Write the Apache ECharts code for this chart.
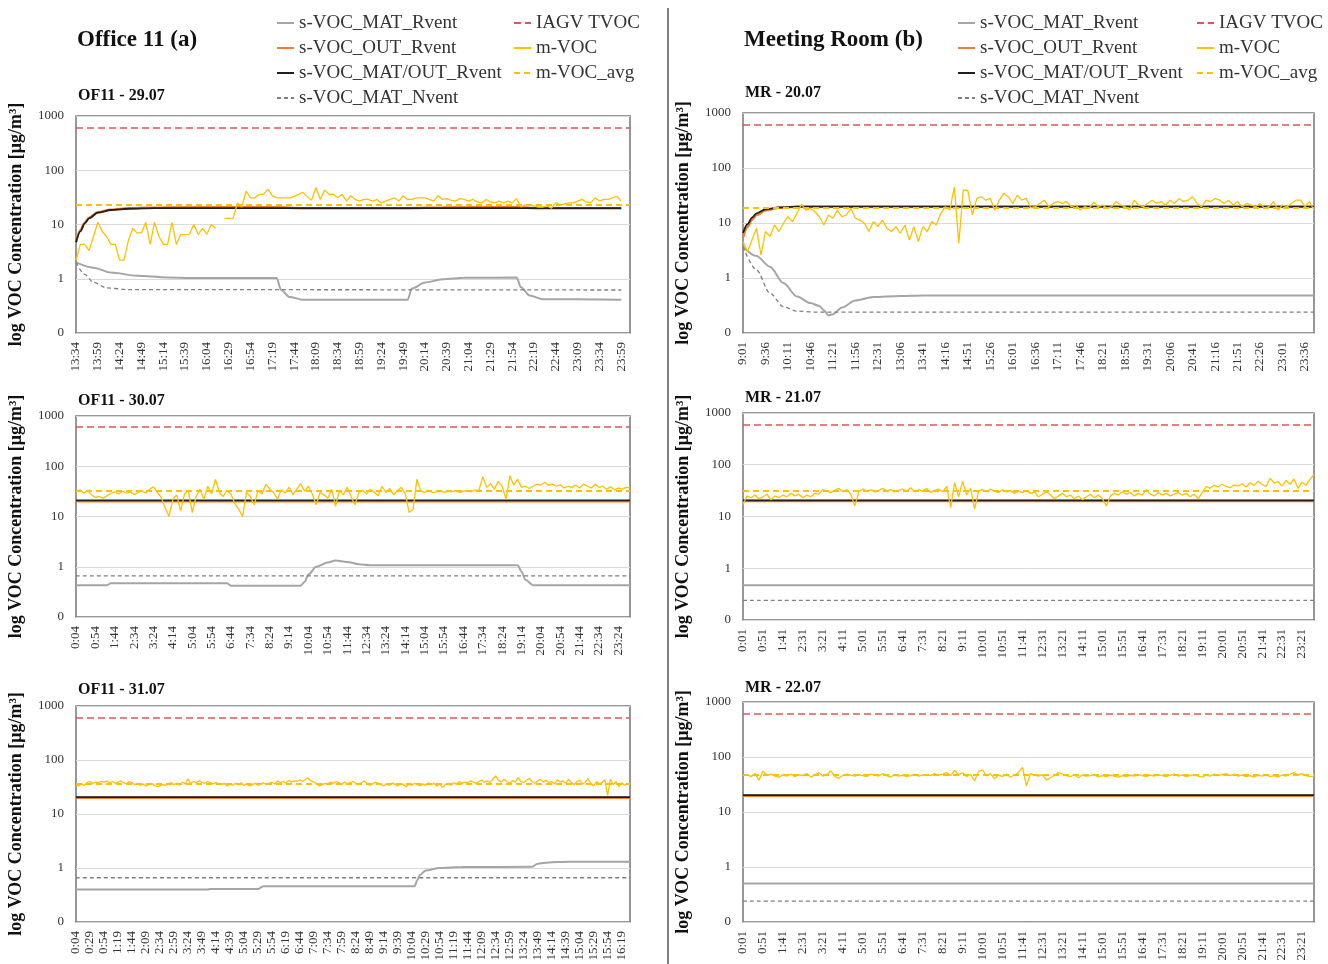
<!DOCTYPE html>
<html>
<head>
<meta charset="utf-8">
<title>VOC concentration - Office 11 / Meeting Room</title>
<script src="https://cdn.jsdelivr.net/npm/echarts@6.0.0/dist/echarts.min.js"></script>
<style>
  html, body { margin: 0; padding: 0; background: #fff; }
  #chart { width: 1328px; height: 964px; }
</style>
</head>
<body>
<div id="chart"></div>
<script>
// one time label per sample (start in minutes after midnight, step in minutes)
function clock(start, step, count) {
  const out = [];
  for (let i = 0; i < count; i++) {
    const t = (start + i * step) % 1440;
    out.push(Math.floor(t / 60) + ':' + String(t % 60).padStart(2, '0'));
  }
  return out;
}

// categories
const catsA1 = clock(13 * 60 + 34, 5, 128);   // 13:34 ... 23:59 (+2 empty)
const catsA2 = clock(4, 10, 144);             // 0:04 ... 23:54
const catsA3 = clock(4, 5, 199);              // 0:04 ... 16:34
const catsB1 = clock(9 * 60 + 1, 7, 128);     // 9:01 ... 23:50
const catsB2 = clock(1, 10, 144);             // 0:01 ... 23:51
const catsB3 = clock(1, 10, 144);

// limits / averages
const iagvLimit = 600;
const avgA1 = 23, avgA2 = 32.5, avgA3 = 37;
const avgB1 = 19, avgB2 = 31, avgB3 = 47;

// measured m-VOC
const mVocA1 = [2.2,4.3,4.3,3.3,6,11,7.5,6,4.3,4.3,
  2.2,2.2,5,8.5,7,7,11,4.3,11,6,
  4.3,4.3,11,4.3,6.5,6.5,6.6,10,6.6,8.5,
  6.6,10,8.5,null,13,13,13,25,21,41,
  31,31,36,36,45,34,31,31,31,31,
  33,36,39,33,28,48,29,43,36,36,
  31,36,27,34,29,27,29,29,27,29,
  25,27,29,31,27,34,29,29,31,31,
  31,29,27,34,29,30,28,27,30,29,
  27,29,26,25,29,26,25,27,25,27,
  25,30,21,23,23,22,21,21,22,20,
  25,23,24,25,25,27,29,26,25,31,
  27,29,29,31,33,27];
const mVocA2 = [31,34,29,33,27,24,25,23,26,29,
  31,28,32,29,31,27,30,33,29,35,
  39,30,24,15,10,22,27,13,28,33,
  12,25,35,22,40,28,55,30,25,33,
  28,18,14,10,30,25,17,33,28,44,
  35,30,22,34,29,38,27,35,45,32,
  40,28,17,30,27,23,35,16,33,27,
  38,25,17,30,33,28,35,30,26,40,
  30,36,27,33,38,28,12,14,55,32,
  30,33,30,31,33,30,32,31,33,30,
  32,33,31,34,33,62,38,45,35,50,
  40,22,65,42,55,38,40,36,40,44,
  42,48,42,44,40,43,37,40,38,42,
  37,44,40,37,44,38,40,35,39,34,
  37,35,38,37];
const mVocA3 = [35,33,36,34,38,40,37,39,38,40,
  39,41,38,40,37,39,41,38,36,40,
  38,35,37,34,36,33,35,37,34,32,
  33,35,34,36,38,35,37,34,39,36,
  45,37,40,38,41,39,37,40,38,36,
  38,36,35,37,33,36,34,37,35,38,
  34,36,33,35,37,34,36,38,35,37,
  39,36,41,38,40,37,42,39,41,40,
  43,40,44,46,41,39,36,33,35,37,
  36,39,37,40,38,35,39,36,38,40,
  37,35,38,41,37,34,36,39,37,35,
  33,36,34,38,35,33,37,35,32,36,
  34,37,35,33,36,34,38,35,37,33,
  36,31,35,37,34,38,36,40,37,39,
  38,41,39,37,40,42,39,41,38,44,
  51,42,39,44,40,37,42,39,47,40,
  38,42,46,40,37,41,44,39,42,38,
  40,36,43,39,41,37,44,38,35,40,
  42,36,39,45,37,33,40,36,38,43,
  22,44,35,40,32,38,34,37,36];
const mVocB1 = [4.6,3.0,4.9,8.0,2.6,7,5.7,9.2,7,9.9,
  13,10.6,15,22,17,18.4,16,13,9.2,14,
  12.2,17,13,14,18.4,12.2,11.3,9.9,7,10.6,
  8.6,11.3,8,7,8.6,6.5,9.2,4.9,8.6,4.6,
  8.6,7,10.6,9.2,15,19.8,17.2,45,4.3,40,
  39,14,28,30,26,28,17,26,34.5,30,
  22.7,32,26,28,19,19.8,22.7,26,19.8,22.7,
  24.4,22.7,24.4,19.8,21.2,17.2,19.8,18.4,24,19.8,
  21.2,18.4,19.8,24.4,21.2,19.8,17.2,26,21.2,19.8,
  22.7,26,22.7,24.4,21.2,26,22.7,28,24.4,26,
  30,22.7,19.8,26,24.4,28,26,22.7,26,21.2,
  24.4,19.8,22.7,21.2,19.8,22.7,18.4,19.8,24.4,17.2,
  21.2,19.8,22.7,26,26,19.8,24.4,17.2];
const mVocB2 = [17,25,23,26,22,24,27,21,25,23,
  26,24,28,25,27,23,26,24,28,27,
  33,31,29,32,35,30,33,27,16,30,
  34,31,33,30,32,35,31,33,30,32,
  34,31,36,30,33,31,35,29,32,34,
  30,38,15,45,24,48,26,35,14,31,
  33,30,34,31,29,33,30,32,28,31,
  29,32,28,30,24,27,30,26,22,25,
  28,24,26,22,25,21,24,27,23,26,
  22,16,25,28,26,30,27,29,25,28,
  26,33,27,25,29,26,28,25,27,29,
  26,28,24,27,22,29,38,35,40,37,
  42,38,36,41,39,43,37,45,40,48,
  42,38,55,44,47,39,50,42,53,35,
  46,40,52,65];
const mVocB3 = [46,48,44,50,38,55,47,49,45,43,
  47,45,49,44,48,46,50,43,47,52,
  45,48,56,44,41,46,49,47,45,48,
  46,44,49,47,45,50,46,43,48,45,
  47,44,46,49,45,47,48,46,50,47,
  49,52,46,57,48,52,44,48,37,55,
  58,45,50,40,47,44,49,43,47,52,
  65,30,50,47,45,48,38,42,46,52,
  49,46,44,48,42,47,45,46,48,43,
  46,44,47,45,43,46,44,47,45,48,
  46,44,47,45,48,46,44,47,49,45,
  47,44,46,48,45,43,47,45,49,46,
  48,50,46,49,45,47,44,46,43,47,
  45,48,44,46,43,47,45,49,52,47,
  50,46,44,45];

// simulated curves, [sample index, value]
const matRA1 = [[0,2.0],[4,1.6],[8,1.3],[14,1.14],[21,1.06],[27,1.03],[46,1.03],[47,0.62],[49,0.46],[52,0.41],
  [76,0.41],[77,0.66],[80,0.85],[84,0.98],[89,1.04],[101,1.05],[102,0.7],[104,0.49],[107,0.42],[125,0.41]];
const outRA1 = [[0,4.8],[1,7.8],[2,10.8],[3,13.3],[5,16.8],[8,18.8],[12,20],[20,20.6],[46,20.8],[52,20],
  [76,20],[84,20.6],[101,20.8],[106,20],[125,20]];
const matOutA1 = [[0,4.7],[1,7.5],[2,10.5],[3,13],[5,16.5],[8,18.5],[12,19.5],[18,20],[125,20]];
const matNA1 = [[0,2.0],[2,1.2],[4,0.86],[7,0.68],[12,0.63],[125,0.62]];

const matRA2 = [[0,0.43],[8,0.43],[9,0.47],[39,0.47],[40,0.42],[58,0.42],[59,0.5],[60,0.7],[62,1.0],[65,1.22],
  [67,1.33],[70,1.25],[73,1.12],[76,1.07],[114,1.07],[115,0.8],[116,0.55],[118,0.43],[143,0.43]];
const outRA2 = [[0,20],[143,20]];
const matOutA2 = [[0,21],[143,21]];
const matNA2 = [[0,0.66],[143,0.66]];

const matRA3 = [[0,0.40],[47,0.40],[48,0.41],[65,0.41],[67,0.46],[121,0.46],[122,0.6],[123,0.75],[125,0.9],[130,1.0],
  [138,1.04],[163,1.05],[165,1.2],[169,1.27],[176,1.3],[198,1.3]];
const outRA3 = [[0,20],[198,20]];
const matOutA3 = [[0,20.5],[198,20.5]];
const matNA3 = [[0,0.66],[198,0.66]];

const matRB1 = [[0,3.7],[3,2.5],[6,1.6],[9,0.81],[12,0.46],[15,0.35],[17,0.31],[18,0.26],[19,0.21],[20,0.22],
  [22,0.29],[25,0.39],[29,0.45],[35,0.47],[40,0.48],[127,0.48]];
const outRB1 = [[0,5.5],[1,8.5],[2,11.5],[3,14],[5,17],[8,19],[12,19.8],[127,19.8]];
const matOutB1 = [[0,6.6],[1,9.5],[2,12.5],[3,15],[5,17.7],[8,19.2],[12,19.8],[127,19.8]];
const matNB1 = [[0,3.7],[3,1.4],[6,0.53],[9,0.3],[12,0.25],[16,0.24],[127,0.24]];

const matRB2 = [[0,0.47],[143,0.47]];
const outRB2 = [[0,20],[143,20]];
const matOutB2 = [[0,20.5],[143,20.5]];
const matNB2 = [[0,0.24],[143,0.24]];

const matRB3 = [[0,0.5],[143,0.5]];
const outRB3 = [[0,19.8],[143,19.8]];
const matOutB3 = [[0,20.3],[143,20.3]];
const matNB3 = [[0,0.24],[143,0.24]];

const legendCol1 = ['s-VOC_MAT_Rvent', 's-VOC_OUT_Rvent', 's-VOC_MAT/OUT_Rvent', 's-VOC_MAT_Nvent'];
const legendCol2 = ['IAGV TVOC', 'm-VOC', 'm-VOC_avg'];

const SERIF = '"Liberation Serif", "DejaVu Serif", serif';
const C = {
  matR: '#a5a5a5', outR: '#ed7d31', matOut: '#1f1f1f', matN: '#7f7f7f',
  iagv: '#e05555', mVoc: '#ffc000', avg: '#ffc000'
};

const panels = [
  { sub: 'OF11 - 29.07', subPos: [78, 96], cats: catsA1, mVoc: mVocA1, matR: matRA1, outR: outRA1, matOut: matOutA1, matN: matNA1, avg: avgA1,
    grid: { left: 76, top: 116, width: 554, height: 217 } },
  { sub: 'OF11 - 30.07', subPos: [78, 401], cats: catsA2, mVoc: mVocA2, matR: matRA2, outR: outRA2, matOut: matOutA2, matN: matNA2, avg: avgA2,
    grid: { left: 76, top: 416, width: 554, height: 201 } },
  { sub: 'OF11 - 31.07', subPos: [78, 690], cats: catsA3, mVoc: mVocA3, matR: matRA3, outR: outRA3, matOut: matOutA3, matN: matNA3, avg: avgA3,
    grid: { left: 76, top: 706, width: 554, height: 216 } },
  { sub: 'MR - 20.07', subPos: [745, 93], cats: catsB1, mVoc: mVocB1, matR: matRB1, outR: outRB1, matOut: matOutB1, matN: matNB1, avg: avgB1,
    grid: { left: 743, top: 113, width: 571, height: 220 } },
  { sub: 'MR - 21.07', subPos: [745, 398], cats: catsB2, mVoc: mVocB2, matR: matRB2, outR: outRB2, matOut: matOutB2, matN: matNB2, avg: avgB2,
    grid: { left: 743, top: 413, width: 571, height: 207 } },
  { sub: 'MR - 22.07', subPos: [745, 688], cats: catsB3, mVoc: mVocB3, matR: matRB3, outR: outRB3, matOut: matOutB3, matN: matNB3, avg: avgB3,
    grid: { left: 743, top: 702, width: 571, height: 220 } }
];

function line(name, i, data, color, width, type, smooth) {
  return {
    name: name, type: 'line', xAxisIndex: i, yAxisIndex: i, data: data,
    symbol: 'none', showSymbol: false, smooth: smooth || false, smoothMonotone: 'x',
    lineStyle: { color: color, width: width, type: type },
    itemStyle: { color: color },
    emphasis: { disabled: true }
  };
}

function level(name, i, value, color, width, type) {
  const s = line(name, i, [], color, width, type);
  s.markLine = {
    silent: true, symbol: 'none', label: { show: false },
    lineStyle: { color: color, width: width, type: type },
    data: [{ yAxis: value }]
  };
  return s;
}

const grids = [], xAxes = [], yAxes = [], series = [], graphics = [];

panels.forEach(function (p, i) {
  grids.push(Object.assign({ show: true, borderColor: '#767676', borderWidth: 1.5, backgroundColor: 'transparent' }, p.grid));
  xAxes.push({
    type: 'category', gridIndex: i, data: p.cats, boundaryGap: false,
    axisLine: { show: false }, axisTick: { show: false }, splitLine: { show: false },
    axisLabel: { interval: 4, rotate: 90, fontFamily: SERIF, fontSize: 13, color: '#333', margin: 9 }
  });
  yAxes.push({
    type: 'log', logBase: 10, gridIndex: i, min: 0.1, max: 1000, splitNumber: 4,
    name: 'log VOC Concentration [μg/m³]', nameLocation: 'middle', nameRotate: 90, nameGap: 51,
    nameTextStyle: { fontFamily: SERIF, fontSize: 18, fontWeight: 'bold', color: '#111' },
    axisLine: { show: false }, axisTick: { show: false },
    axisLabel: {
      fontFamily: SERIF, fontSize: 13, color: '#333', margin: 12,
      formatter: function (v) { return v < 1 ? '0' : String(Math.round(v)); }
    },
    splitLine: { lineStyle: { color: '#d9d9d9', width: 1 } }
  });

  series.push(line('s-VOC_MAT_Rvent', i, p.matR, C.matR, 2, 'solid', 0.3));
  series.push(line('s-VOC_OUT_Rvent', i, p.outR, C.outR, 2.5, 'solid', 0.3));
  series.push(line('s-VOC_MAT/OUT_Rvent', i, p.matOut, C.matOut, 1.8, 'solid', 0.3));
  series.push(line('s-VOC_MAT_Nvent', i, p.matN, C.matN, 1.3, [4, 3], 0.3));
  series.push(level('IAGV TVOC', i, iagvLimit, C.iagv, 1.5, [7, 4]));
  series.push(line('m-VOC', i, p.mVoc, C.mVoc, 1.3, 'solid'));
  series.push(level('m-VOC_avg', i, p.avg, C.avg, 2, [6, 4]));

  graphics.push({
    type: 'text', x: p.subPos[0], y: p.subPos[1],
    style: { text: p.sub, font: 'bold 16px ' + SERIF, fill: '#111', verticalAlign: 'middle' }
  });
});

graphics.push(
  { type: 'text', x: 77, y: 40, style: { text: 'Office 11 (a)', font: 'bold 23px ' + SERIF, fill: '#111', verticalAlign: 'middle' } },
  { type: 'text', x: 744, y: 40, style: { text: 'Meeting Room (b)', font: 'bold 23px ' + SERIF, fill: '#111', verticalAlign: 'middle' } },
  { type: 'line', shape: { x1: 668, y1: 8, x2: 668, y2: 964 }, style: { stroke: '#555', lineWidth: 1.5 } }
);

// legend icons: line only, no marker
const legendBase = {
  orient: 'vertical', top: 8, itemWidth: 17, itemHeight: 10, itemGap: 5, selectedMode: false,
  itemStyle: { opacity: 0 },
  textStyle: { fontFamily: SERIF, fontSize: 19, color: '#333', lineHeight: 20 }
};

const chart = echarts.init(document.getElementById('chart'), null, { renderer: 'canvas' });
chart.setOption({
  animation: false,
  backgroundColor: '#fff',
  legend: [
    Object.assign({ left: 271, data: legendCol1 }, legendBase),
    Object.assign({ left: 508, data: legendCol2 }, legendBase),
    Object.assign({ left: 952, data: legendCol1 }, legendBase),
    Object.assign({ left: 1191, data: legendCol2 }, legendBase)
  ],
  grid: grids,
  xAxis: xAxes,
  yAxis: yAxes,
  series: series,
  graphic: graphics
});
</script>
</body>
</html>
